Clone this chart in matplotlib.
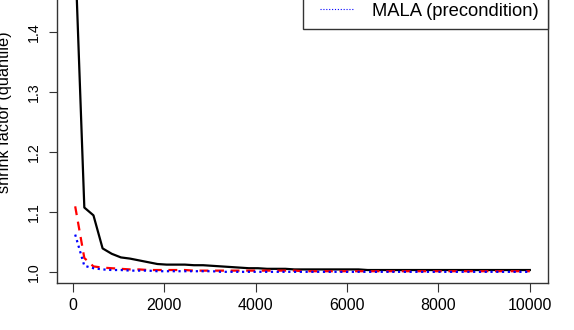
import matplotlib
matplotlib.use("Agg")
import matplotlib.pyplot as plt
from matplotlib.legend_handler import HandlerLine2D
from matplotlib.lines import Line2D

plt.rcParams["font.family"] = ["Liberation Sans", "DejaVu Sans"]

# last iteration of each bin
iters = [50] + list(range(250, 10000, 200)) + [10000]

shrink_rwm = [1.53, 1.108, 1.095, 1.040, 1.031, 1.025, 1.023, 1.020, 1.017, 1.014,
              1.013, 1.013, 1.013, 1.012, 1.012, 1.011, 1.010, 1.009, 1.008, 1.007,
              1.007, 1.006, 1.006, 1.006, 1.005, 1.005, 1.005, 1.005, 1.005, 1.005,
              1.005, 1.005, 1.004, 1.004, 1.004, 1.004, 1.004, 1.004, 1.004, 1.004,
              1.004, 1.004, 1.004, 1.004, 1.004, 1.004, 1.004, 1.004, 1.004, 1.004,
              1.004]
shrink_mala = [1.110, 1.024, 1.010, 1.008, 1.007, 1.006, 1.005, 1.005, 1.004, 1.004,
               1.004, 1.004, 1.004, 1.003, 1.003, 1.003, 1.003, 1.003, 1.003, 1.003,
               1.003, 1.003, 1.003, 1.003, 1.003, 1.002, 1.002, 1.002, 1.002, 1.002,
               1.002, 1.002, 1.002, 1.002, 1.002, 1.002, 1.002, 1.002, 1.002, 1.002,
               1.002, 1.002, 1.002, 1.002, 1.002, 1.002, 1.002, 1.002, 1.002, 1.002,
               1.002]
shrink_pre = [1.063, 1.011, 1.007, 1.005, 1.004, 1.004, 1.003, 1.003, 1.003, 1.002,
              1.002, 1.002, 1.002, 1.002, 1.002, 1.002, 1.001, 1.001, 1.001, 1.001,
              1.001, 1.001, 1.001, 1.001, 1.001, 1.001, 1.001, 1.001, 1.001, 1.001,
              1.001, 1.001, 1.001, 1.001, 1.001, 1.001, 1.001, 1.001, 1.001, 1.001,
              1.001, 1.001, 1.001, 1.001, 1.001, 1.001, 1.001, 1.001, 1.001, 1.001,
              1.001]
labels = ["RWM", "MALA", "MALA (precondition)"]
xticks = [0, 2000, 4000, 6000, 8000, 10000]
yticks = [1.0, 1.1, 1.2, 1.3, 1.4]


class OffsetLine(HandlerLine2D):
    """legend line that starts a bit right of the handle box (R style)"""
    def create_artists(self, legend, orig_handle, xdescent, ydescent,
                       width, height, fontsize, trans):
        return super().create_artists(legend, orig_handle, xdescent - 5.8, ydescent,
                                      width - 5.8, height, fontsize, trans)


fig = plt.figure(figsize=(5.74, 3.30), dpi=100)
# top of the plot region lies above the picture (cropped figure)
ax = fig.add_axes([57 / 574, 47 / 330, 491 / 574, 341 / 330])

ax.plot(iters, shrink_rwm, color="black", lw=1.6, label=labels[0])
ax.plot(iters, shrink_mala, color="red", lw=1.6, ls=(0, (4, 3)), label=labels[1])
ax.plot(iters, shrink_pre, color="blue", lw=1.6, ls=(0, (1, 1.6)), label=labels[2])

ax.set_xlim(-348, 10398)
ax.set_ylim(0.9824, 1.550)
ax.set_xticks(xticks)
ax.set_xticklabels([str(t) for t in xticks])
ax.set_yticks(yticks)
ax.set_yticklabels([f"{t:.1f}" for t in yticks], rotation=90, va="center")
ax.tick_params(width=0.8, color="#333333")
ax.tick_params(axis="x", length=6.5, labelsize=11.5, pad=4.5)
ax.tick_params(axis="y", length=5.5, labelsize=10.2, pad=6)
for s in ax.spines.values():
    s.set_color("#333333")
    s.set_linewidth(1.0)

ax.set_ylabel("shrink factor (quantile)", fontsize=11.7)
ax.yaxis.set_label_coords(-0.092, 0.5)

handles = [Line2D([], [], color="black", lw=1),
           Line2D([], [], color="red", lw=1, ls=(0, (4, 3))),
           Line2D([], [], color="blue", lw=0.8, ls=(0, (1, 1.6)))]
leg = ax.legend(handles, labels, loc="lower right",
                bbox_to_anchor=(1.0, (283 - 29) / 341), borderaxespad=0,
                fontsize=13.2, fancybox=False, edgecolor="#333333", framealpha=1,
                borderpad=0.5, handlelength=2.29, handletextpad=0.98, labelspacing=0.9,
                handler_map={Line2D: OffsetLine()})
leg.get_frame().set_linewidth(1.0)

fig.savefig("out.png", dpi=100)
